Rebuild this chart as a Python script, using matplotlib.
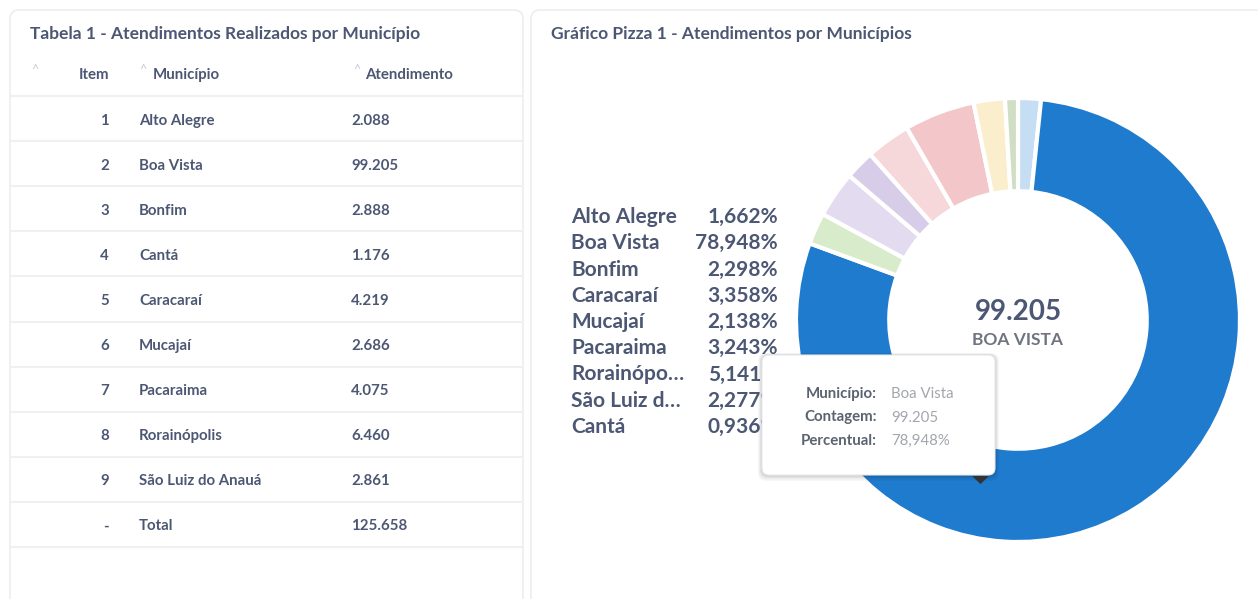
import matplotlib
matplotlib.use("Agg")
import matplotlib.pyplot as plt
from matplotlib.patches import FancyBboxPatch, Polygon

plt.rcParams['font.family'] = ['Lato', 'DejaVu Sans']

# ---------------------------------------------------------
# DATA
# ---------------------------------------------------------
municipios = ['Alto Alegre', 'Boa Vista', 'Bonfim', 'Cantá', 'Caracaraí',
              'Mucajaí', 'Pacaraima', 'Rorainópolis', 'São Luiz do Anauá']
atendimentos = [2088, 99205, 2888, 1176, 4219, 2686, 4075, 6460, 2861]

# order used by the pie / legend
pie_order = ['Alto Alegre', 'Boa Vista', 'Bonfim', 'Caracaraí', 'Mucajaí',
             'Pacaraima', 'Rorainópolis', 'São Luiz do Anauá', 'Cantá']
pie_labels = ['Alto Alegre', 'Boa Vista', 'Bonfim', 'Caracaraí', 'Mucajaí',
              'Pacaraima', 'Rorainópo…', 'São Luiz d…', 'Cantá']
pie_colors = ['#c6def4', '#1f7bcd', '#d8ebcb', '#e3dcf0', '#d8cde8',
              '#f6d7da', '#f3c7c9', '#fbeecc', '#d0dfc4']

DARK = '#4c5773'
LINE = '#eef0f3'
DY = 2  # small vertical nudge so text centres match the screenshot


def fmt_int(v):
    return f"{v:,}".replace(',', '.')


def fmt_pct(v):
    return f"{v:.3f}".replace('.', ',') + '%'


total = sum(atendimentos)
counts = dict(zip(municipios, atendimentos))
pie_values = [counts[m] for m in pie_order]

# ---------------------------------------------------------
# FIGURE (pixel coords on a background axes)
# ---------------------------------------------------------
W, H = 1258, 599
fig = plt.figure(figsize=(W / 100, H / 100), dpi=100)
bg = fig.add_axes([0, 0, 1, 1], zorder=0)
bg.set_xlim(0, W)
bg.set_ylim(H, 0)
bg.axis('off')

# cards
for x0, x1 in [(10, 523), (531, 1270)]:
    bg.add_patch(FancyBboxPatch((x0, 10), x1 - x0, 620,
                                boxstyle="round,pad=0,rounding_size=9",
                                fc='white', ec='#ebedf0', lw=1.2))

# --- table card ---
bg.text(30, 32 + DY, 'Tabela 1 - Atendimentos Realizados por Município',
        fontsize=12.5, fontweight='bold', color=DARK, va='center')

hy = 73 + DY
caret = dict(fontsize=9, color='#c6cad2', va='center')
bg.text(35, hy - 5, '^', ha='center', **caret)
bg.text(109, hy, 'Item', ha='right', va='center', fontsize=10.8,
        fontweight='bold', color=DARK)
bg.text(143, hy - 5, '^', ha='center', **caret)
bg.text(153, hy, 'Município', ha='left', va='center', fontsize=10.8,
        fontweight='bold', color=DARK)
bg.text(357, hy - 5, '^', ha='center', **caret)
bg.text(365, hy, 'Atendimento', ha='left', va='center', fontsize=10.8,
        fontweight='bold', color=DARK)

row_h = 45.1
y0 = 96
rows = [(str(i + 1), m, fmt_int(v)) for i, (m, v) in enumerate(zip(municipios, atendimentos))]
rows.append(('-', 'Total', fmt_int(total)))
bg.plot([10, 523], [y0, y0], color=LINE, lw=1.5)
for i, (item, nome, val) in enumerate(rows):
    yc = y0 + row_h * (i + 0.5) + DY
    bg.text(109, yc, item, ha='right', va='center', fontsize=10.8,
            fontweight='bold', color=DARK)
    bg.text(139, yc, nome, ha='left', va='center', fontsize=10.8,
            fontweight='bold', color=DARK)
    bg.text(351, yc, val, ha='left', va='center', fontsize=10.8,
            fontweight='bold', color=DARK)
    yl = y0 + row_h * (i + 1)
    bg.plot([10, 523], [yl, yl], color=LINE, lw=1.5)

# --- pie card ---
bg.text(551, 32 + DY, 'Gráfico Pizza 1 - Atendimentos por Municípios',
        fontsize=12.5, fontweight='bold', color=DARK, va='center')

for i, (lab, v) in enumerate(zip(pie_labels, pie_values)):
    yc = 215 + 26.25 * i + DY
    bg.text(571, yc, lab, ha='left', va='center', fontsize=15,
            fontweight='bold', color=DARK)
    bg.text(778, yc, fmt_pct(100 * v / total), ha='right', va='center',
            fontsize=15, fontweight='bold', color=DARK)

# donut
cx, cy, r = 1018, 320, 222
pax = fig.add_axes([(cx - r) / W, 1 - (cy + r) / H, 2 * r / W, 2 * r / H], zorder=1)
pax.pie(pie_values, colors=pie_colors, startangle=90, counterclock=False,
        radius=1, wedgeprops=dict(width=0.42, edgecolor='white', linewidth=3))
pax.set_xlim(-1, 1)
pax.set_ylim(-1, 1)
pax.axis('off')

# overlay: center label + tooltip
ov = fig.add_axes([0, 0, 1, 1], zorder=2)
ov.set_xlim(0, W)
ov.set_ylim(H, 0)
ov.axis('off')
ov.patch.set_alpha(0)

ov.text(cx, 310 + DY, fmt_int(counts['Boa Vista']), ha='center', va='center',
        fontsize=20, fontweight='bold', color=DARK)
ov.text(cx, 338 + DY, 'BOA VISTA', ha='center', va='center', fontsize=12.5,
        fontweight='bold', color='#6f7480')

tx0, tx1, ty0, ty1 = 762, 995, 355, 475
for k, a in [(8, 0.03), (6, 0.04), (4, 0.05), (2, 0.06)]:
    ov.add_patch(FancyBboxPatch((tx0 - k / 2, ty0 - k / 4), tx1 - tx0 + k, ty1 - ty0 + k,
                                boxstyle="round,pad=0,rounding_size=8",
                                fc='black', ec='none', alpha=a))
ov.add_patch(FancyBboxPatch((tx0, ty0), tx1 - tx0, ty1 - ty0,
                            boxstyle="round,pad=0,rounding_size=7",
                            fc='white', ec='#e6e8eb', lw=0.8))
ov.add_patch(Polygon([[972, 476], [989, 476], [980.5, 484]], closed=True,
                     fc='#333333', ec='none'))

tip = [('Município:', 'Boa Vista'),
       ('Contagem:', fmt_int(counts['Boa Vista'])),
       ('Percentual:', fmt_pct(100 * counts['Boa Vista'] / total))]
for i, (k, v) in enumerate(tip):
    yc = 392 + 23.5 * i + DY
    ov.text(877, yc, k, ha='right', va='center', fontsize=10.8,
            fontweight='bold', color='#5b6270')
    ov.text(891, yc, v, ha='left', va='center', fontsize=10.8,
            color='#a3a6ad')

fig.savefig('out.png', dpi=100, facecolor='white')
